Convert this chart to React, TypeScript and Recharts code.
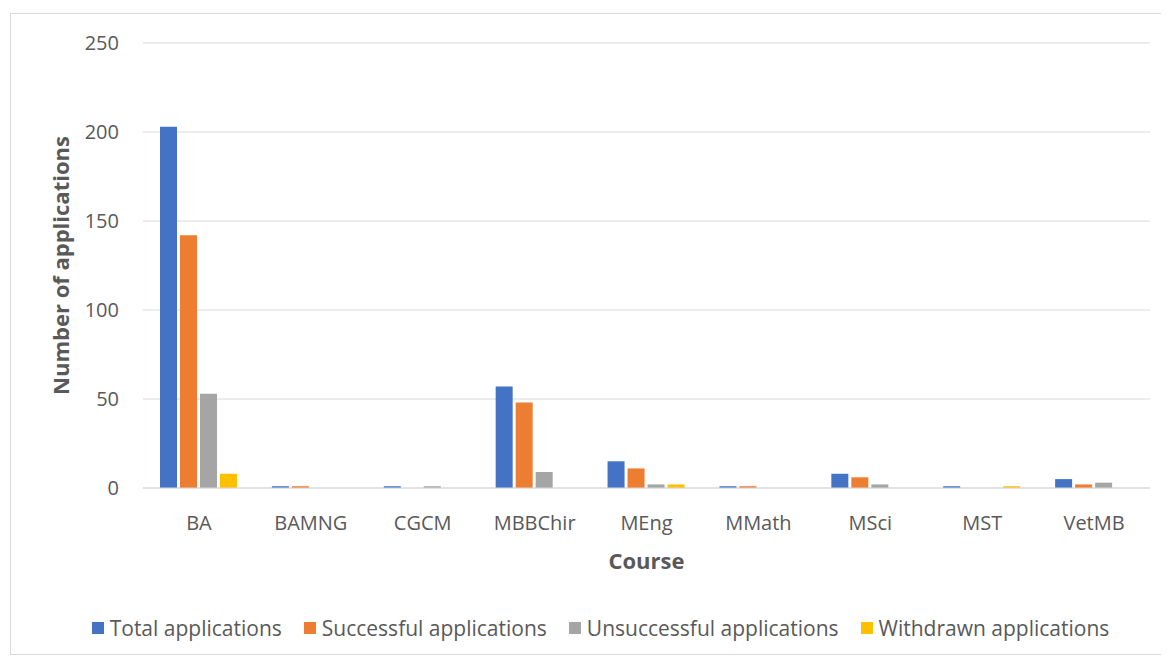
import React from "react";
import { BarChart, Bar, XAxis, YAxis, CartesianGrid, Legend } from "recharts";

const courses = ["BA", "BAMNG", "CGCM", "MBBChir", "MEng", "MMath", "MSci", "MST", "VetMB"];
const totalApps = [203, 1, 1, 57, 15, 1, 8, 1, 5];
const successfulApps = [142, 1, 0, 48, 11, 1, 6, 0, 2];
const unsuccessfulApps = [53, 0, 1, 9, 2, 0, 2, 0, 3];
const withdrawnApps = [8, 0, 0, 0, 2, 0, 0, 1, 0];
const yTicks = [0, 50, 100, 150, 200, 250];

const seriesInfo = [
  { key: "total", name: "Total applications", color: "#4472C4" },
  { key: "successful", name: "Successful applications", color: "#ED7D31" },
  { key: "unsuccessful", name: "Unsuccessful applications", color: "#A5A5A5" },
  { key: "withdrawn", name: "Withdrawn applications", color: "#FFC000" },
];

const data = courses.map((c, i) => ({
  course: c,
  total: totalApps[i],
  successful: successfulApps[i],
  unsuccessful: unsuccessfulApps[i],
  withdrawn: withdrawnApps[i],
}));

const FONT = "'Open Sans', sans-serif";
const TEXT = "#595959";

const LegendContent = () => (
  <div
    style={{
      display: "flex",
      justifyContent: "center",
      fontFamily: FONT,
      fontSize: 21,
      color: TEXT,
      marginTop: -3,
      paddingLeft: 40,
    }}
  >
    {seriesInfo.map((s, i) => (
      <div
        key={s.key}
        style={{ display: "flex", alignItems: "center", marginRight: i < seriesInfo.length - 1 ? 22 : 0 }}
      >
        <span style={{ width: 12, height: 12, background: s.color, display: "inline-block", marginRight: 6 }} />
        <span>{s.name}</span>
      </div>
    ))}
  </div>
);

export default function App() {
  return (
    <div
      style={{
        marginLeft: 2,
        marginTop: 5,
        width: 1155,
        height: 642,
        border: "1px solid #d9d9d9",
        boxSizing: "border-box",
        background: "#fff",
      }}
    >
      <BarChart
        width={1153}
        height={640}
        data={data}
        margin={{ top: 29, right: 14, left: 0, bottom: 13 }}
        barCategoryGap="15%"
        barGap={3}
        barSize={17}
      >
        <CartesianGrid vertical={false} stroke="#d9d9d9" />
        <XAxis
          dataKey="course"
          height={129}
          axisLine={{ stroke: "#d9d9d9" }}
          tickLine={false}
          tickMargin={22}
          tick={{ fill: TEXT, fontSize: 20, fontFamily: FONT }}
          label={{
            value: "Course",
            position: "insideBottom",
            offset: 48,
            style: { fill: TEXT, fontSize: 22, fontWeight: 700, fontFamily: FONT },
          }}
        />
        <YAxis
          width={132}
          domain={[0, 250]}
          ticks={yTicks}
          axisLine={false}
          tickLine={false}
          tickMargin={18}
          tick={{ fill: TEXT, fontSize: 20, fontFamily: FONT }}
          label={{
            value: "Number of applications",
            angle: -90,
            position: "insideLeft",
            offset: 50,
            style: { fill: TEXT, fontSize: 22, fontWeight: 700, fontFamily: FONT, textAnchor: "middle" },
          }}
        />
        <Legend verticalAlign="bottom" height={24} content={<LegendContent />} />
        {seriesInfo.map((s) => (
          <Bar key={s.key} dataKey={s.key} name={s.name} fill={s.color} isAnimationActive={false} />
        ))}
      </BarChart>
    </div>
  );
}
